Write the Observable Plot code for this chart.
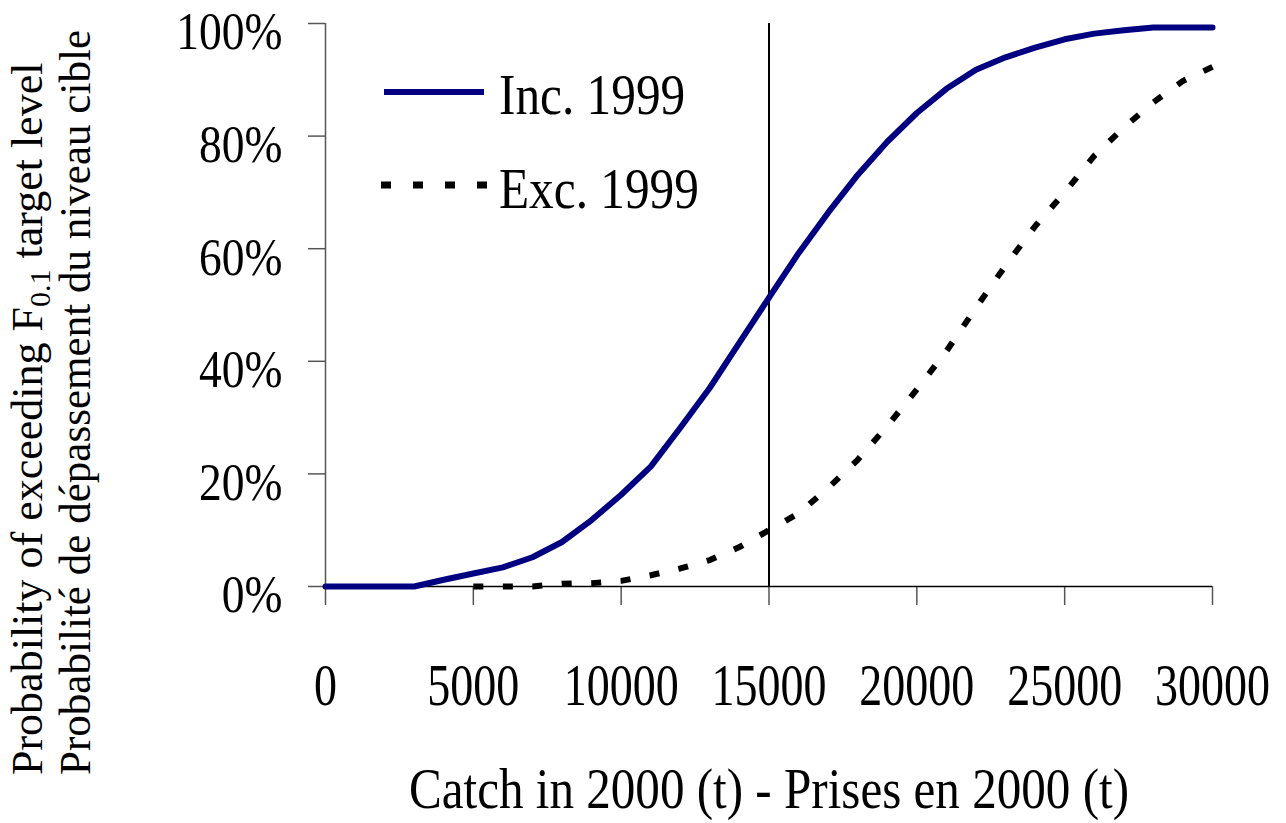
<!DOCTYPE html>
<html>
<head>
<meta charset="utf-8">
<script src="https://cdn.jsdelivr.net/npm/d3@7"></script>
<script src="https://cdn.jsdelivr.net/npm/@observablehq/plot@0.6"></script>
<style>
  html, body { margin: 0; padding: 0; background: white; }
  #wrap { position: relative; width: 1286px; height: 823px; overflow: hidden; }
  #overlay { position: absolute; left: 0; top: 0; pointer-events: none; }
  svg text { font-family: "Liberation Serif", "Times New Roman", serif; }
</style>
</head>
<body>
<div id="wrap"></div>
<script>
// ---- data ----
const catchInc = [0, 1000, 2000, 3000, 4000, 5000, 6000, 7000, 8000, 9000, 10000,
  11000, 12000, 13000, 14000, 15000, 16000, 17000, 18000, 19000, 20000,
  21000, 22000, 23000, 24000, 25000, 26000, 27000, 28000, 29000, 30000];
const probInc = [0, 0, 0, 0, 0.012, 0.023, 0.034, 0.052, 0.079, 0.118, 0.163,
  0.213, 0.282, 0.353, 0.433, 0.513, 0.592, 0.664, 0.731, 0.790, 0.841,
  0.884, 0.918, 0.940, 0.957, 0.972, 0.982, 0.988, 0.993, 0.993, 0.993];
const catchExc = [5000, 6000, 7000, 8000, 9000, 10000, 11000, 12000, 13000, 14000, 15000,
  16000, 17000, 18000, 19000, 20000, 21000, 22000, 23000, 24000, 25000,
  26000, 27000, 28000, 29000, 30000];
const probExc = [0, 0, 0, 0.005, 0.006, 0.010, 0.020, 0.032, 0.047, 0.070, 0.100,
  0.130, 0.175, 0.225, 0.285, 0.350, 0.418, 0.495, 0.570, 0.640, 0.700,
  0.765, 0.815, 0.860, 0.898, 0.923];
const xTicks = [0, 5000, 10000, 15000, 20000, 25000, 30000];
const yTicks = [0, 0.2, 0.4, 0.6, 0.8, 1.0];
const refCatch = [15000];
const seriesNames = ["Inc. 1999", "Exc. 1999"];
const xTitle = "Catch in 2000 (t) - Prises en 2000 (t)";
const yTitleEn = ["Probability of exceeding F", "0.1", " target level"];
const yTitleFr = "Probabilité de dépassement du niveau cible";

const inc = catchInc.map((c, i) => ({catch: c, p: probInc[i]}));
const exc = catchExc.map((c, i) => ({catch: c, p: probExc[i]}));

const FONT = "Liberation Serif";
const chart = Plot.plot({
  width: 1286, height: 823,
  marginLeft: 325, marginRight: 74, marginTop: 23, marginBottom: 237,
  style: {background: "white", fontFamily: FONT, overflow: "visible"},
  x: {domain: [0, 30000]},
  y: {domain: [0, 1]},
  marks: [
    Plot.ruleX([0], {stroke: "#555", strokeWidth: 1.5}),
    Plot.axisY({ticks: yTicks, tickSize: 17, fill: "none", stroke: "#555", strokeWidth: 1.5, label: null}),
    Plot.axisY({ticks: yTicks, tickSize: 17, tickPadding: 26, stroke: "none", fill: "black",
      tickFormat: d3.format(".0%"), fontSize: 53, fontFamily: FONT, dy: 9, label: null}),
    Plot.axisX({ticks: xTicks, tickSize: 19, fill: "none", stroke: "#555", strokeWidth: 1.5, label: null}),
    Plot.axisX({ticks: xTicks, tickSize: 19, tickPadding: 58, stroke: "none", fill: "black",
      tickFormat: d3.format("d"), fontSize: 59, fontFamily: FONT, label: null}),
    Plot.ruleY([0], {stroke: "black", strokeWidth: 1.5}),
    Plot.ruleX(refCatch, {stroke: "black", strokeWidth: 2}),
    Plot.line(inc, {x: "catch", y: "p", stroke: "#000080", strokeWidth: 6}),
    Plot.line(exc, {x: "catch", y: "p", stroke: "black", strokeWidth: 6,
      strokeDasharray: "10,19.5", strokeLinecap: "butt"}),
    Plot.text([xTitle], {text: d => d, frameAnchor: "bottom", dy: 221, fontSize: 56,
      fontFamily: FONT, fill: "black"})
  ]
});

const wrap = document.getElementById("wrap");
wrap.appendChild(chart);

function squeeze(sel, k) {
  sel.each(function () {
    const t = this.getAttribute("transform") || "";
    this.setAttribute("transform", t + ` scale(${k},1)`);
  });
}
const root = d3.select(chart);
squeeze(root.selectAll('g[aria-label="y-axis tick label"] text'), 0.86);
squeeze(root.selectAll('g[aria-label="x-axis tick label"] text'), 0.78);
squeeze(root.selectAll('g[aria-label="text"] text'), 0.877);

// ---- overlay: legend and y-axis titles ----
const ov = d3.select(wrap).append("svg")
  .attr("id", "overlay").attr("width", 1286).attr("height", 823);

// legend
ov.append("line").attr("x1", 384).attr("x2", 484).attr("y1", 92).attr("y2", 92)
  .attr("stroke", "#000080").attr("stroke-width", 6);
ov.append("line").attr("x1", 381).attr("x2", 488).attr("y1", 185).attr("y2", 185)
  .attr("stroke", "black").attr("stroke-width", 7).attr("stroke-dasharray", "10,22");
ov.append("text").attr("transform", "translate(499,114) scale(0.865,1)")
  .attr("font-size", 57).attr("fill", "black").text(seriesNames[0]);
ov.append("text").attr("transform", "translate(499,208) scale(0.865,1)")
  .attr("font-size", 57).attr("fill", "black").text(seriesNames[1]);

// y titles
const t1 = ov.append("text").attr("transform", "translate(42,775) rotate(-90)")
  .attr("font-size", 44).attr("fill", "black");
t1.append("tspan").text(yTitleEn[0]);
t1.append("tspan").attr("font-size", 30).attr("dy", 8).text(yTitleEn[1]);
t1.append("tspan").attr("dy", -8).text(yTitleEn[2]);
ov.append("text").attr("transform", "translate(90,775) rotate(-90)")
  .attr("font-size", 44).attr("fill", "black")
  .attr("textLength", 745).attr("lengthAdjust", "spacingAndGlyphs")
  .text(yTitleFr);
</script>
</body>
</html>
